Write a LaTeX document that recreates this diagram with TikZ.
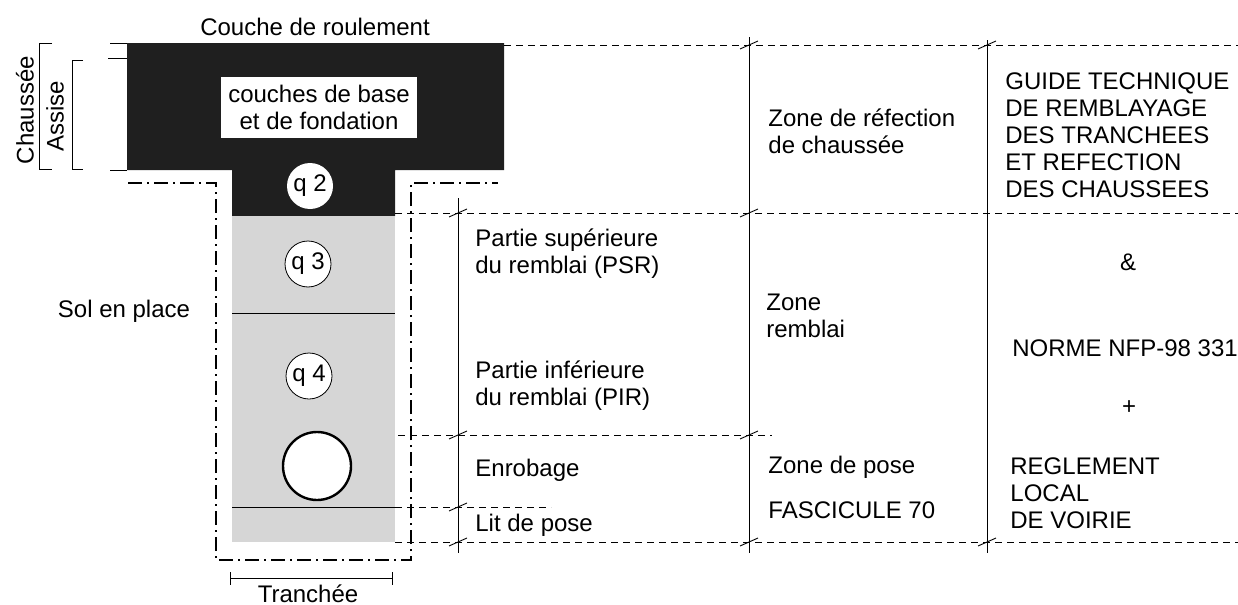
\documentclass[tikz,border=0pt]{standalone}
\usepackage{fontspec}
\setmainfont{Liberation Sans}
\usetikzlibrary{positioning}

\tikzset{
	lbl/.style={inner sep=0pt, font=\fontsize{12}{13.5}\selectfont},
	lftlbl/.style={lbl, anchor=west, align=left},
	trait/.style={line width=0.45pt},
	cote/.style={line width=0.45pt, dash pattern=on 3.5pt off 2.5pt},
	fouille/.style={line width=1.2pt, dash pattern=on 7pt off 2.5pt on 1pt off 2.5pt},
	repere/.pic={\draw[line width=0.45pt] (-9,4) -- (9,-4);},
	qcercle/.style={circle, fill=white, inner sep=0pt, minimum size=23pt, font=\fontsize{12}{13.5}\selectfont}
}

\begin{document}
\begin{tikzpicture}[x=0.5pt, y=-0.5pt]
	\useasboundingbox (0,0) rectangle (1238,605);

	% chaussee et tranchee
	\fill[black!88] (127,43) -- (504,43) -- (504,170) -- (395,170) -- (395,216) -- (232,216) -- (232,170) -- (127,170) -- cycle;
	\fill[black!16] (232,216) rectangle (395,542);
	\draw[trait] (232,313) -- (395,313);
	\draw[trait] (232,507) -- (395,507);
	\draw[fouille] (128,183) -- (216,183) -- (216,560) -- (411,560) -- (411,183) -- (498,183);

	\draw (319,107) node[lbl, fill=white, minimum width=98pt, minimum height=30.5pt, align=center] (base) {couches de base\\et de fondation}
		(310,186) node[qcercle] (q2) {q 2}
		(308,264) node[qcercle, draw, line width=0.4pt] (q3) {q 3}
		(309,376) node[qcercle, draw, line width=0.4pt] (q4) {q 4}
		(317,466) node[circle, draw, line width=1.2pt, fill=white, inner sep=0pt, minimum size=34pt] (tuyau) {};

	% cotes a gauche
	\draw[trait] (52,43) -- (39,43) -- (39,169) -- (52,169);
	\draw[trait] (83,60) -- (72,60) -- (72,169) -- (83,169);
	\draw[trait] (110,43) -- (127,43) (108,58) -- (127,58) (110,170) -- (127,170);
	\draw[trait] (230,572) -- (230,585) (230,578) -- (392,578) (392,572) -- (392,585);

	\node[lbl, rotate=90] (chaussee) at (25,110) {Chaussée};
	\node[lbl, rotate=90] (assise) at (55,116) {Assise};
	\node[lbl] (roulement) at (315,27) {Couche de roulement};
	\node[lbl] (sol) at (124,311) {Sol en place};
	\node[lbl] (tranchee) at (308,594) {Tranchée};

	% tableau
	\draw[trait] (458,198) -- (458,553) (749,37) -- (749,553) (987,40) -- (987,553);
	\draw[cote] (504,45) -- (1238,45);
	\draw[cote] (395,213) -- (1238,213);
	\draw[cote] (398,435) -- (772,435);
	\draw[cote] (395,507) -- (551,507);
	\draw[cote] (395,542) -- (1238,542);
	\foreach \x/\y in {458/213, 458/435, 458/507, 458/542, 749/45, 749/213, 749/435, 749/542, 987/45, 987/542}
		\pic at (\x,\y) {repere};

	\node[lftlbl] (psr) at (475,254) {Partie supérieure\\du remblai (PSR)};
	\node[lftlbl] (pir) at (475,386) {Partie inférieure\\du remblai (PIR)};
	\node[lftlbl] (enrobage) at (475,470) {Enrobage};
	\node[lftlbl] (lit) at (475,525) {Lit de pose};

	\node[lftlbl] (refection) at (768,131) {Zone de réfection\\de chaussée};
	\node[lftlbl] (remblai) at (766,316) {Zone\\remblai};
	\node[lftlbl] (pose) at (768,467) {Zone de pose};
	\node[lftlbl] (fascicule) at (768,510) {FASCICULE 70};

	\node[lftlbl] (guide) at (1005,135) {GUIDE TECHNIQUE\\DE REMBLAYAGE\\DES TRANCHEES\\ET REFECTION\\DES CHAUSSEES};
	\node[lbl] (et) at (1128,262) {\&};
	\node[lftlbl] (norme) at (1012,348) {NORME NFP-98 331};
	\node[lbl] (plus) at (1129,408) {+};
	\node[lftlbl] (reglement) at (1010,493) {REGLEMENT\\LOCAL\\DE VOIRIE};
\end{tikzpicture}
\end{document}
